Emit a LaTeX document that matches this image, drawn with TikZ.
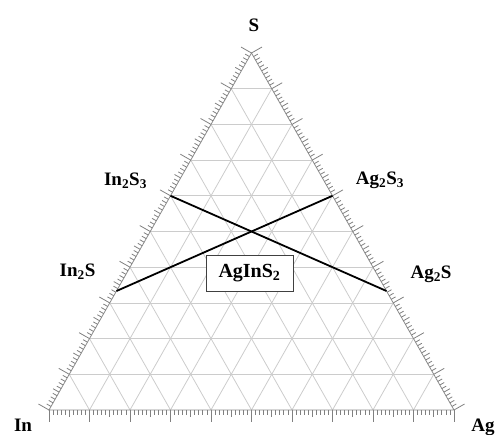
\documentclass[tikz,border=0pt]{standalone}
\usepackage{fontspec}
\setmainfont{Liberation Serif}
\usetikzlibrary{calc}
\tikzset{
  gridline/.style={draw=black!20, line width=0.8pt},
  tickline/.style={draw=black!50, line width=0.8pt},
  edgeline/.style={draw=black!45, line width=0.8pt},
  tieline/.style={draw=black, line width=1.8pt},
  lbl/.style={font=\fontsize{19}{22}\selectfont\bfseries, inner sep=0pt},
  phasebox/.style={draw=black!75, line width=0.9pt, fill=white, minimum width=87pt, minimum height=36pt, inner sep=0pt, font=\fontsize{20}{22}\selectfont\bfseries}
}
\begin{document}
\begin{tikzpicture}[x=1pt,y=-1pt]
\useasboundingbox (0,0) rectangle (499,435);
\coordinate (In) at (49,410);
\coordinate (Ag) at (454,410);
\coordinate (S) at (251.5,53);
% grid
\foreach \k in {1,...,9}{
  \draw[gridline] ($(In)!\k/10!(S)$) -- ($(Ag)!\k/10!(S)$);
  \draw[gridline] ($(In)!\k/10!(Ag)$) -- ($(S)!\k/10!(Ag)$);
  \draw[gridline] ($(Ag)!\k/10!(In)$) -- ($(S)!\k/10!(In)$);
}
% edges
\draw[edgeline] (In) -- (Ag) -- (S) -- cycle;
% ticks
\foreach \i in {0,...,100}{
  \pgfmathsetmacro{\tl}{ifthenelse(mod(\i,10)==0,12,ifthenelse(mod(\i,5)==0,7,5))}
  \draw[tickline] ($(In)!\i/100!(Ag)$) -- ++(0,\tl);
  \draw[tickline] ($(In)!\i/100!(S)$) -- ++({-0.8699*\tl},{-0.4934*\tl});
  \draw[tickline] ($(Ag)!\i/100!(S)$) -- ++({0.8699*\tl},{-0.4934*\tl});
}
% compound points
\coordinate (pIn2S3) at ($(In)!0.6!(S)$);
\coordinate (pIn2S) at ($(In)!0.3333!(S)$);
\coordinate (pAg2S3) at ($(Ag)!0.6!(S)$);
\coordinate (pAg2S) at ($(Ag)!0.3333!(S)$);
\draw[tieline] (pIn2S3) -- (pAg2S);
\draw[tieline] (pIn2S) -- (pAg2S3);
% labels
\node[lbl] (lS) at (254,25) {S};
\node[lbl] (lIn) at (23,425) {In};
\node[lbl] (lAg) at (483,427) {Ag};
\node[lbl] (lIn2S3) at (125.5,181) {In\textsubscript{2}S\textsubscript{3}};
\node[lbl] (lAg2S3) at (380,180) {Ag\textsubscript{2}S\textsubscript{3}};
\node[lbl] (lIn2S) at (77.5,272) {In\textsubscript{2}S};
\node[lbl] (lAg2S) at (431,274) {Ag\textsubscript{2}S};
\node[phasebox] (box) at (249.5,273) {AgInS\textsubscript{2}};
\end{tikzpicture}
\end{document}
